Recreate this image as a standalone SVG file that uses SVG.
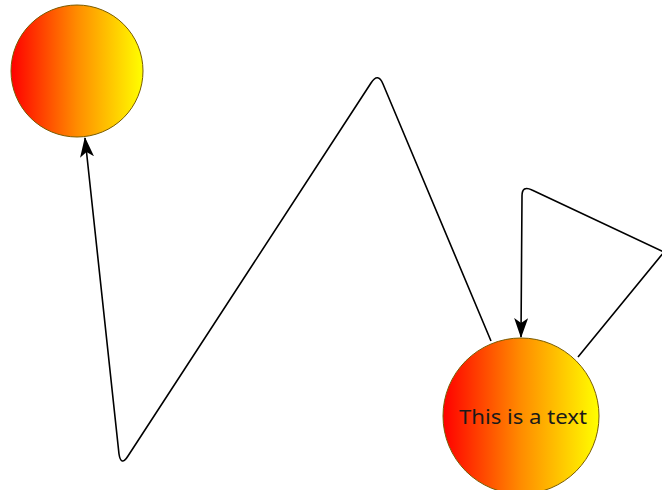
<svg xmlns="http://www.w3.org/2000/svg" width="662" height="490" viewBox="0 0 662 490">
<defs>
<linearGradient id="g" x1="0" y1="0" x2="1" y2="0">
<stop offset="0" stop-color="#ff0000"/>
<stop offset="0.5" stop-color="#ff8c00"/>
<stop offset="1" stop-color="#ffff00"/>
</linearGradient>
<marker id="arr" viewBox="0 0 20 14" refX="19" refY="7" markerWidth="20" markerHeight="14" markerUnits="userSpaceOnUse" orient="auto">
<path d="M0,0 L20,7 L0,14 L5,7 Z" fill="#000"/>
</marker>
<style>
.node{fill:url(#g);stroke:#7a5c00;stroke-width:1}
.edge{fill:none;stroke:#000;stroke-width:1.6;stroke-linejoin:round}
.lbl{font-family:"Noto Sans","Open Sans",sans-serif;font-size:20px;fill:#1a1a1a}
</style>
</defs>
<g id="connectors">
<path class="edge" marker-end="url(#arr)" d="M491,341 L383,84 Q378,72 371,83 L128,456 Q121,467 119,454 L85,138"/>
<path class="edge" marker-end="url(#arr)" d="M578,357 L664,252 L532,190 Q522,185 522,196 L521,337"/>
</g>
<g id="node1">
<circle class="node" cx="77" cy="71" r="66"/>
</g>
<g id="node2">
<circle class="node" cx="521" cy="416" r="78"/>
<text class="lbl" x="523" y="424" text-anchor="middle" textLength="128" lengthAdjust="spacingAndGlyphs">This is a text</text>
</g>
</svg>
